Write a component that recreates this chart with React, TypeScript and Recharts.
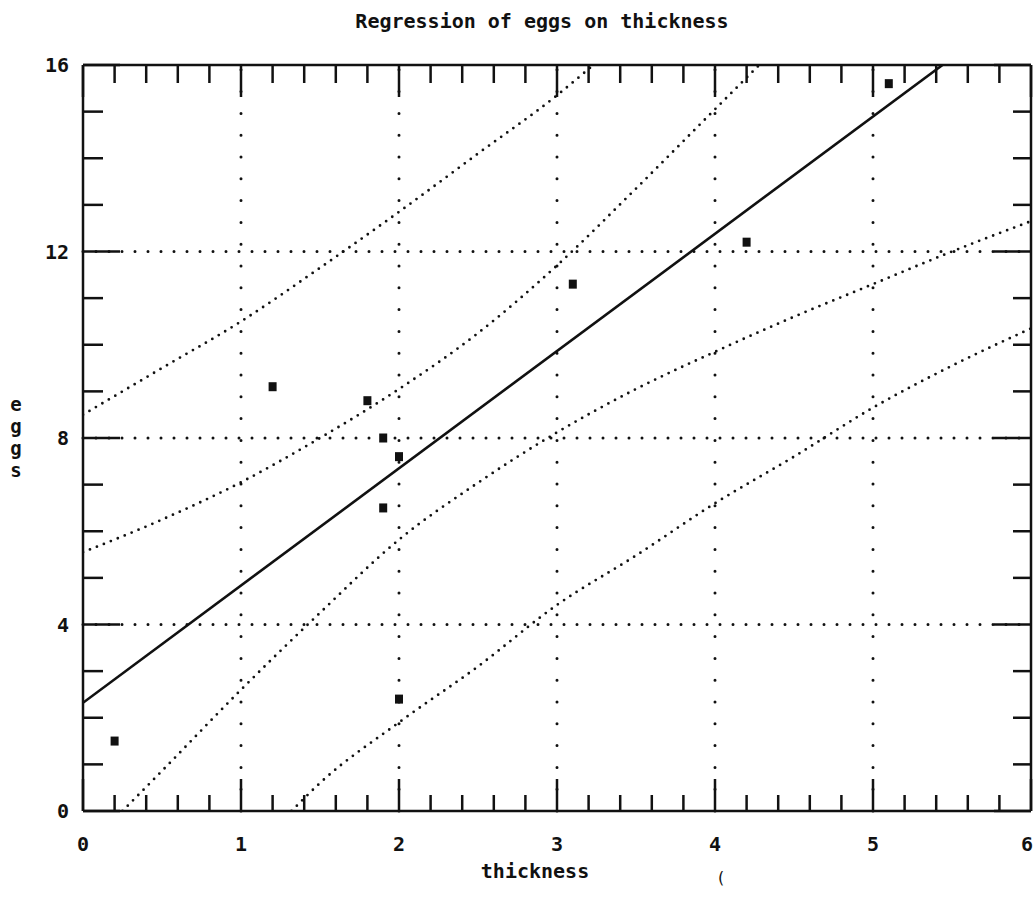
import React from "react";
import {
  ComposedChart,
  Line,
  Scatter,
  XAxis,
  YAxis,
  ReferenceLine,
} from "recharts";

// observed points (thickness, eggs)
const thickness = [0.2, 1.2, 1.8, 1.9, 2.0, 1.9, 2.0, 3.1, 4.2, 5.1];
const eggs = [1.5, 9.1, 8.8, 8.0, 7.6, 6.5, 2.4, 11.3, 12.2, 15.6];

// fitted line, read at its ends in the plot
const fitX = [0, 5.44];
const fitY = [2.32, 16];

// dotted bands
const outerUpperX = [0, 0.5, 1, 1.5, 2, 2.5, 3, 3.23];
const outerUpperY = [8.5, 9.5, 10.5, 11.65, 12.85, 14.1, 15.35, 16];
const innerUpperX = [0, 0.5, 1, 1.5, 2, 2.5, 3, 3.5, 4, 4.28];
const innerUpperY = [5.55, 6.25, 7.05, 8.0, 9.05, 10.25, 11.7, 13.35, 15.05, 16];
const innerLowerX = [0.25, 0.5, 1, 1.5, 2, 2.5, 3, 3.5, 4, 4.5, 5, 5.5, 6];
const innerLowerY = [0, 0.86, 2.6, 4.25, 5.82, 7.04, 8.12, 9.05, 9.85, 10.6, 11.3, 12.0, 12.65];
const outerLowerX = [1.32, 1.5, 2, 2.5, 3, 3.5, 4, 4.5, 5, 5.5, 6];
const outerLowerY = [0, 0.6, 1.9, 3.1, 4.42, 5.48, 6.6, 7.6, 8.65, 9.55, 10.35];

const xTicks = [
  0, 0.2, 0.4, 0.6, 0.8, 1, 1.2, 1.4, 1.6, 1.8, 2, 2.2, 2.4, 2.6, 2.8, 3,
  3.2, 3.4, 3.6, 3.8, 4, 4.2, 4.4, 4.6, 4.8, 5, 5.2, 5.4, 5.6, 5.8, 6,
];
const yTicks = [0, 1, 2, 3, 4, 5, 6, 7, 8, 9, 10, 11, 12, 13, 14, 15, 16];
const gridX = [1, 2, 3, 4, 5];
const gridY = [4, 8, 12];

const pairs = (xs: number[], ys: number[]) => xs.map((x, i) => ({ x, y: ys[i] }));

const FONT = '"DejaVu Sans Mono", monospace';
const INK = "#111";

const isMajorX = (v: number) => Math.abs(v - Math.round(v)) < 1e-6;
const isMajorY = (v: number) => Math.round(v) % 4 === 0;

const BottomTick = (props: any) => {
  const { x, y, payload } = props;
  const major = isMajorX(payload.value);
  const last = payload.value >= 6;
  return (
    <g>
      <line x1={x} x2={x} y1={y} y2={y - (major ? 32 : 16)} stroke={INK} strokeWidth={2.5} />
      {major && (
        <text
          x={last ? x + 2 : x}
          y={y + 33}
          dy="0.36em"
          textAnchor={last ? "end" : "middle"}
          fontFamily={FONT}
          fontWeight="bold"
          fontSize={20}
          fill={INK}
        >
          {Math.round(payload.value)}
        </text>
      )}
    </g>
  );
};

const TopTick = (props: any) => {
  const { x, y, payload } = props;
  const major = isMajorX(payload.value);
  return <line x1={x} x2={x} y1={y} y2={y + (major ? 32 : 18)} stroke={INK} strokeWidth={2.5} />;
};

const LeftTick = (props: any) => {
  const { x, y, payload } = props;
  const major = isMajorY(payload.value);
  return (
    <g>
      <line x1={x} x2={x + (major ? 37 : 20)} y1={y} y2={y} stroke={INK} strokeWidth={2.5} />
      {major && (
        <text x={x - 14} y={y} dy="0.36em" textAnchor="end" fontFamily={FONT} fontWeight="bold" fontSize={20} fill={INK}>
          {payload.value}
        </text>
      )}
    </g>
  );
};

const RightTick = (props: any) => {
  const { x, y, payload } = props;
  const major = isMajorY(payload.value);
  return <line x1={x} x2={x - (major ? 37 : 18)} y1={y} y2={y} stroke={INK} strokeWidth={2.5} />;
};

const SquareDot = (props: any) => {
  const { cx, cy } = props;
  return <rect x={cx - 4} y={cy - 4.5} width={8} height={9} fill={INK} />;
};

const bandStyle = {
  stroke: INK,
  strokeWidth: 2.8,
  strokeDasharray: "0 7.5",
  strokeLinecap: "round" as const,
};

export default function App() {
  return (
    <div style={{ position: "absolute", left: 0, top: 0, width: 1034, height: 901, background: "#fff" }}>
      <div
        style={{
          position: "absolute",
          left: 0,
          width: 1084,
          top: 8,
          textAlign: "center",
          fontFamily: FONT,
          fontWeight: "bold",
          fontSize: 20,
          color: INK,
          lineHeight: "26px",
        }}
      >
        Regression of eggs on thickness
      </div>
      <div
        style={{
          position: "absolute",
          left: 6,
          top: 393,
          width: 20,
          fontFamily: FONT,
          fontWeight: "bold",
          fontSize: 19,
          lineHeight: "22px",
          color: INK,
          textAlign: "center",
        }}
      >
        {"eggs".split("").map((c, i) => (
          <div key={i}>{c}</div>
        ))}
      </div>
      <div
        style={{
          position: "absolute",
          left: 460,
          width: 150,
          top: 859,
          textAlign: "center",
          fontFamily: FONT,
          fontWeight: "bold",
          fontSize: 20,
          color: INK,
        }}
      >
        thickness
      </div>
      <div style={{ position: "absolute", left: 716, top: 868, fontFamily: FONT, fontSize: 16, color: INK }}>(</div>

      <ComposedChart width={1034} height={901} margin={{ top: 60, right: 0, bottom: 30, left: 43 }}>
        <XAxis
          xAxisId="b"
          dataKey="x"
          type="number"
          domain={[0, 6]}
          ticks={xTicks}
          interval={0}
          allowDataOverflow
          height={60}
          tickSize={0}
          tickMargin={0}
          tick={<BottomTick />}
          axisLine={{ stroke: INK, strokeWidth: 2.5 }}
          tickLine={false}
        />
        <XAxis
          xAxisId="t"
          orientation="top"
          dataKey="x"
          type="number"
          domain={[0, 6]}
          ticks={xTicks}
          interval={0}
          allowDataOverflow
          height={5}
          tickSize={0}
          tickMargin={0}
          tick={<TopTick />}
          axisLine={{ stroke: INK, strokeWidth: 2.5 }}
          tickLine={false}
        />
        <YAxis
          yAxisId="l"
          type="number"
          domain={[0, 16]}
          ticks={yTicks}
          interval={0}
          allowDataOverflow
          width={40}
          tickSize={0}
          tickMargin={0}
          tick={<LeftTick />}
          axisLine={{ stroke: INK, strokeWidth: 2.5 }}
          tickLine={false}
        />
        <YAxis
          yAxisId="r"
          orientation="right"
          type="number"
          domain={[0, 16]}
          ticks={yTicks}
          interval={0}
          allowDataOverflow
          width={3}
          tickSize={0}
          tickMargin={0}
          tick={<RightTick />}
          axisLine={{ stroke: INK, strokeWidth: 2.5 }}
          tickLine={false}
        />

        {gridX.map((v) => (
          <ReferenceLine
            key={"gx" + v}
            x={v}
            xAxisId="b"
            yAxisId="l"
            stroke={INK}
            strokeWidth={3}
            strokeDasharray="0 21.8"
            strokeLinecap="round"
          />
        ))}
        {gridY.map((v) => (
          <ReferenceLine
            key={"gy" + v}
            y={v}
            xAxisId="b"
            yAxisId="l"
            stroke={INK}
            strokeWidth={3}
            strokeDasharray="0 13"
            strokeLinecap="round"
          />
        ))}

        <Line xAxisId="b" yAxisId="l" data={pairs(outerUpperX, outerUpperY)} dataKey="y" type="monotone" dot={false} isAnimationActive={false} {...bandStyle} />
        <Line xAxisId="b" yAxisId="l" data={pairs(innerUpperX, innerUpperY)} dataKey="y" type="monotone" dot={false} isAnimationActive={false} {...bandStyle} />
        <Line xAxisId="b" yAxisId="l" data={pairs(innerLowerX, innerLowerY)} dataKey="y" type="monotone" dot={false} isAnimationActive={false} {...bandStyle} />
        <Line xAxisId="b" yAxisId="l" data={pairs(outerLowerX, outerLowerY)} dataKey="y" type="monotone" dot={false} isAnimationActive={false} {...bandStyle} />
        <Line
          xAxisId="b"
          yAxisId="l"
          data={pairs(fitX, fitY)}
          dataKey="y"
          type="linear"
          dot={false}
          stroke={INK}
          strokeWidth={2.6}
          isAnimationActive={false}
        />
        <Scatter
          xAxisId="b"
          yAxisId="l"
          data={pairs(thickness, eggs)}
          dataKey="y"
          shape={<SquareDot />}
          isAnimationActive={false}
        />
      </ComposedChart>
    </div>
  );
}
